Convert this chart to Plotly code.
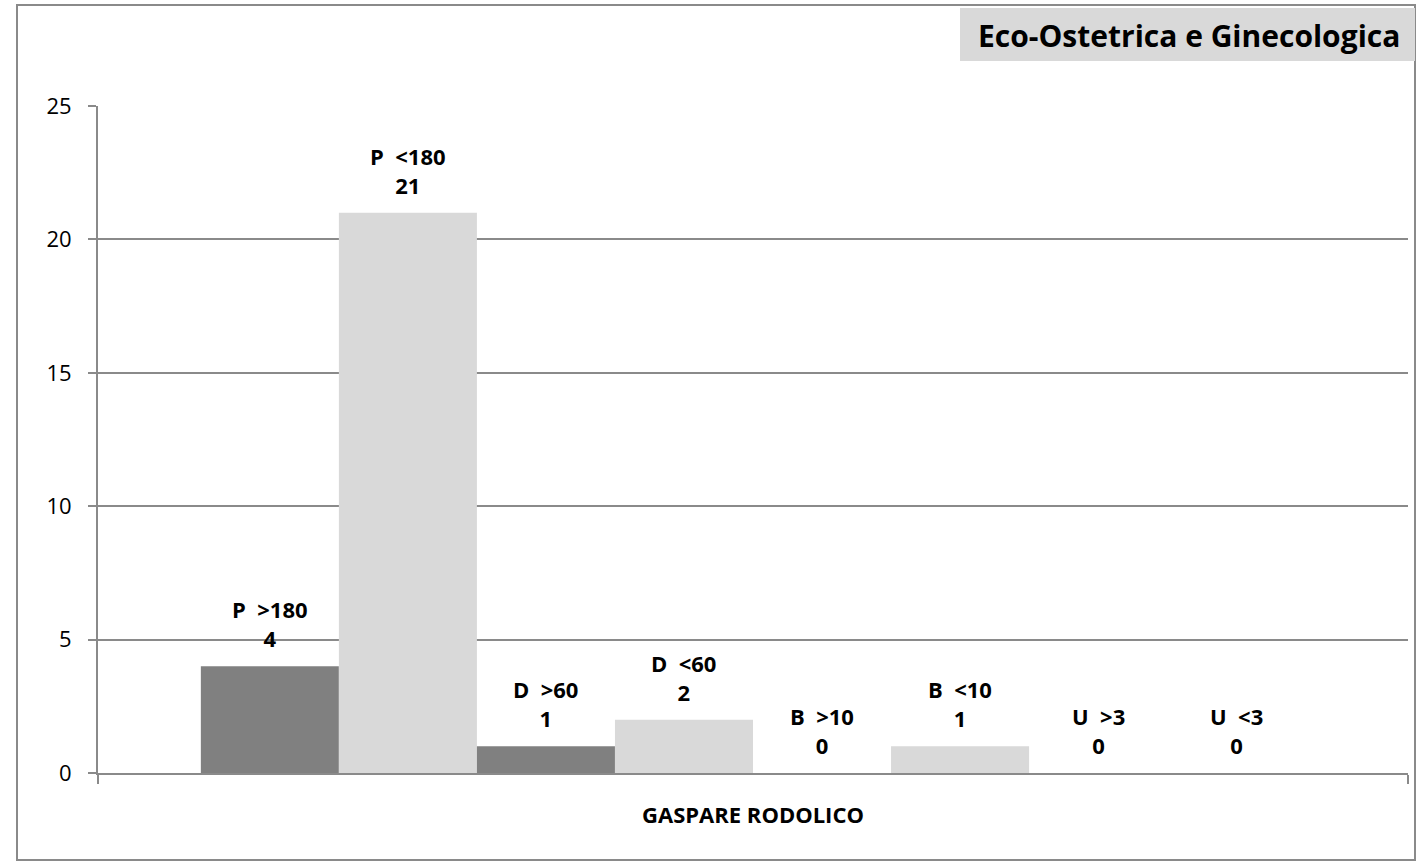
import plotly.graph_objects as go

category = ["GASPARE RODOLICO"]
series_labels = ["P  >180", "P  &lt;180", "D  >60", "D  &lt;60", "B  >10", "B  &lt;10", "U  >3", "U  &lt;3"]
values = [4, 21, 1, 2, 0, 1, 0, 0]
colors = ["#808080", "#d9d9d9", "#808080", "#d9d9d9", "#808080", "#d9d9d9", "#808080", "#d9d9d9"]
y_ticks = [0, 5, 10, 15, 20, 25]
title_text = "Eco-Ostetrica e Ginecologica"

FONT = "Open Sans"
BARGAP = 0.157

fig = go.Figure()
for lab, val, col in zip(series_labels, values, colors):
    fig.add_trace(go.Bar(
        x=category, y=[val], name=lab,
        marker=dict(color=col, line=dict(width=0)),
    ))

# value labels above each bar (positioned via the category axis index)
n = len(values)
bw = (1 - BARGAP) / n
annotations = []
for i, (lab, val) in enumerate(zip(series_labels, values)):
    annotations.append(dict(
        text=f"{lab}<br>{val}", xref="x", yref="y",
        x=-(1 - BARGAP) / 2 + (i + 0.5) * bw, y=val,
        xanchor="center", yanchor="bottom", yshift=11, showarrow=False,
        font=dict(family=FONT, size=22, color="black", weight="bold"),
    ))

W, H = 1418, 862
L, R, T, B = 98, 10, 106, 89
pw, ph = W - L - R, H - T - B


def px(x):
    return (x - L) / pw


def py(y):
    return (H - B - y) / ph


annotations.append(dict(
    text=title_text, xref="paper", yref="paper", x=px(1189), y=py(35),
    xanchor="center", yanchor="middle", showarrow=False,
    font=dict(family=FONT, size=30, color="black", weight="bold")))

fig.update_layout(
    width=W, height=H,
    margin=dict(l=L, r=R, t=T, b=B),
    paper_bgcolor="white", plot_bgcolor="white",
    barmode="group", bargap=BARGAP, bargroupgap=0,
    showlegend=False,
    font=dict(family=FONT, color="black"),
    xaxis=dict(
        type="category", showline=True, linecolor="#8a8a8a", linewidth=2,
        ticks="outside", tickson="boundaries", ticklen=9, tickcolor="#8a8a8a", tickwidth=2,
        tickfont=dict(family=FONT, size=22, color="black", weight="bold"),
        ticklabelstandoff=22,
        showgrid=False,
    ),
    yaxis=dict(
        range=[0, 25], tickvals=y_ticks, showline=True, linecolor="#8a8a8a", linewidth=2,
        ticks="outside", ticklen=8, tickcolor="#8a8a8a", tickwidth=2,
        showgrid=True, gridcolor="#8a8a8a", gridwidth=1.6,
        tickfont=dict(family=FONT, size=22, color="black"),
        ticklabelstandoff=12,
        zeroline=False,
    ),
    shapes=[
        dict(type="rect", xref="paper", yref="paper",
             x0=px(17), x1=px(1415), y0=py(860), y1=py(5),
             line=dict(color="#8a8a8a", width=2), fillcolor="rgba(0,0,0,0)", layer="below"),
        dict(type="rect", xref="paper", yref="paper",
             x0=px(960), x1=px(1415), y0=py(61), y1=py(8),
             line=dict(width=0), fillcolor="#d9d9d9", layer="below"),
    ],
    annotations=annotations,
)

fig.write_html("out.html", config={"displayModeBar": False},
               post_script="document.body.style.margin='0';")
